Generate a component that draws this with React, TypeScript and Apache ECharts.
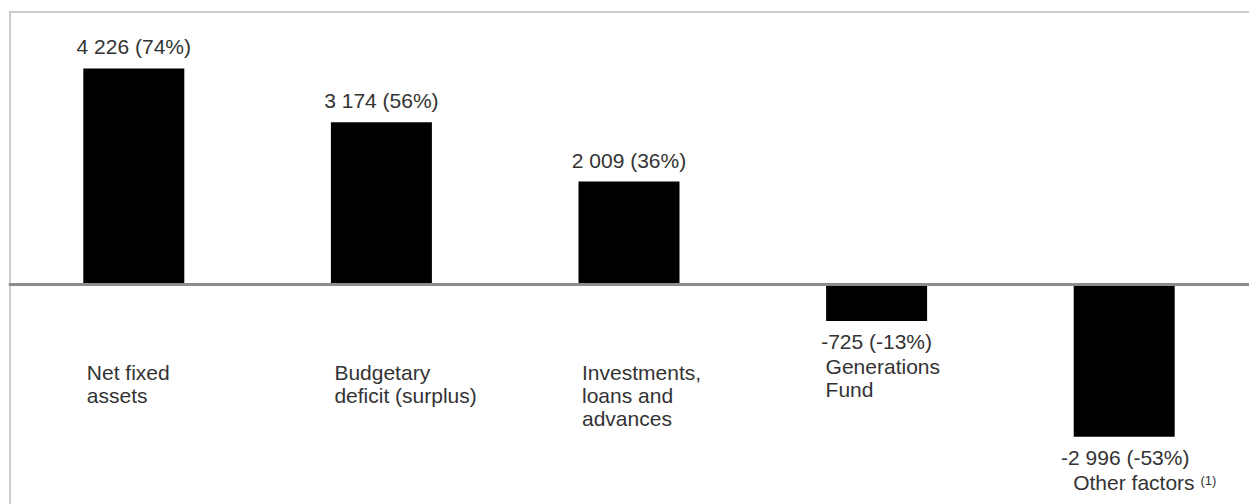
import React, { useEffect, useRef } from "react";
import * as echarts from "echarts";

const categories = [
  "Net fixed\nassets",
  "Budgetary\ndeficit (surplus)",
  "Investments,\nloans and\nadvances",
  "Generations\nFund",
  "Other factors ",
];
const values = [4226, 3174, 2009, -725, -2996];
const shares = [74, 56, 36, -13, -53];
const footnotes = ["", "", "", "", "(1)"];

const FONT = "Liberation Sans, Arial, Helvetica, sans-serif";
const TEXT = "#333";
const FS = 21;

function fmt(v: number): string {
  const s = String(Math.abs(v)).replace(/\B(?=(\d{3})+(?!\d))/g, " ");
  return (v < 0 ? "-" : "") + s;
}

export default function App() {
  const ref = useRef<HTMLDivElement>(null);
  useEffect(() => {
    if (!ref.current) return;
    const chart = echarts.init(ref.current, null, { renderer: "svg" });
    const data = values.map((v, i) => {
      const valueText = `${fmt(v)} (${shares[i]}%)`;
      if (v >= 0) {
        return {
          value: v,
          label: { position: "top", distance: 11, formatter: valueText },
        };
      }
      const lines = categories[i].split("\n").map((l) => `{c|${l}}`);
      if (footnotes[i]) lines[lines.length - 1] += `{sup|${footnotes[i]}}`;
      return {
        value: v,
        label: {
          position: "bottom",
          distance: 7,
          align: "left",
          offset: [-90, 0],
          formatter: `{v|${valueText}}\n` + lines.join("\n"),
        },
      };
    });
    chart.setOption({
      animation: false,
      textStyle: { fontFamily: FONT },
      grid: {
        left: 10,
        right: 1,
        top: 29,
        bottom: 16,
        containLabel: false,
        outerBoundsMode: "none",
      },
      graphic: [
        {
          type: "rect",
          shape: { x: 10, y: 12, width: 1270, height: 600 },
          style: { fill: "none", stroke: "#cccccc", lineWidth: 2 },
          silent: true,
          z: -1,
        },
      ],
      xAxis: {
        type: "category",
        data: categories,
        z: 5,
        axisLine: { onZero: true, lineStyle: { color: "#8c8c8c", width: 3 } },
        axisTick: { show: false },
        splitLine: { show: false },
        axisLabel: {
          interval: 0,
          margin: -127.5,
          hideOverlap: false,
          formatter: (val: string, idx: number) =>
            values[idx] >= 0
              ? val
                  .split("\n")
                  .map((l) => `{c|${l}}`)
                  .join("\n")
              : "",
          rich: {
            c: {
              width: 94,
              align: "left",
              fontSize: FS,
              lineHeight: 23,
              color: TEXT,
              fontFamily: FONT,
            },
          },
        },
      },
      yAxis: {
        type: "value",
        min: -4000,
        max: 5000,
        show: false,
        splitLine: { show: false },
      },
      series: [
        {
          type: "bar",
          data,
          barWidth: 101,
          itemStyle: { color: "#000000" },
          label: {
            show: true,
            fontSize: FS,
            color: TEXT,
            fontFamily: FONT,
            rich: {
              v: {
                width: 180,
                align: "center",
                fontSize: FS,
                lineHeight: 27,
                color: TEXT,
                fontFamily: FONT,
              },
              c: {
                align: "left",
                padding: [0, 0, 0, 39],
                fontSize: FS,
                lineHeight: 23,
                color: TEXT,
                fontFamily: FONT,
              },
              sup: {
                align: "left",
                verticalAlign: "top",
                fontSize: 13,
                lineHeight: 15,
                padding: [3, 0, 0, 0],
                color: TEXT,
                fontFamily: FONT,
              },
            },
          },
        },
      ],
    });
    return () => chart.dispose();
  }, []);
  return (
    <div
      ref={ref}
      style={{ position: "fixed", left: 0, top: 0, width: 1249, height: 504, background: "#fff" }}
    />
  );
}
